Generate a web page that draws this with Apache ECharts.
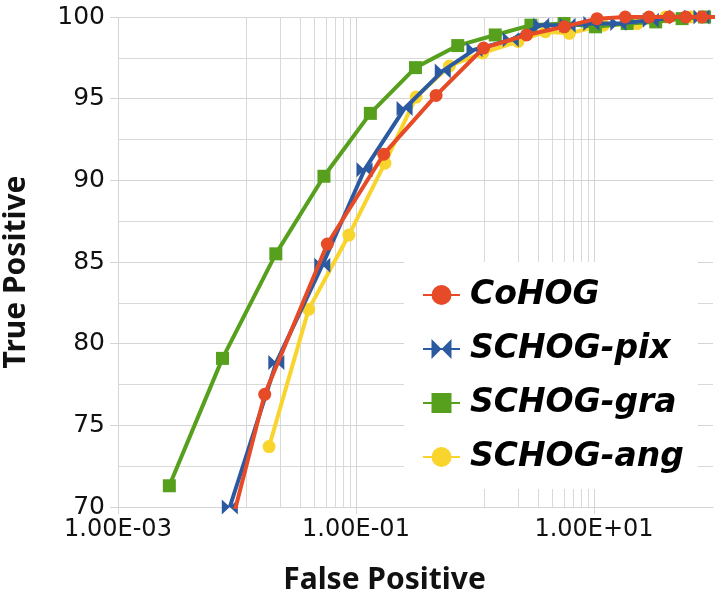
<!DOCTYPE html>
<html><head><meta charset="utf-8">
<script src="https://cdn.jsdelivr.net/npm/echarts@6/dist/echarts.min.js"></script>
<style>html,body{margin:0;padding:0;background:#fff}#c{width:717px;height:600px}</style>
</head><body><div id="c"></div>
<script>
// ---- data ----
const seriesNames = ['CoHOG', 'SCHOG-pix', 'SCHOG-gra', 'SCHOG-ang'];
const cohogFP = [0.0090, 0.0171, 0.0574, 0.171, 0.471, 1.18, 2.71, 5.62, 10.6, 18.3, 29.0, 42.8, 59, 81, 120];
const cohogTP = [69.0, 76.9, 86.1, 91.6, 95.2, 98.1, 98.9, 99.4, 99.9, 100, 100, 100, 100, 100, 100];
const pixFP = [0.0087, 0.0214, 0.0521, 0.118, 0.256, 0.536, 0.99, 2.0, 3.6, 6.0, 9.5, 16, 30, 50, 80, 120];
const pixTP = [70.0, 78.85, 84.8, 90.65, 94.4, 96.7, 98.0, 98.6, 99.5, 99.5, 99.6, 99.6, 99.8, 100, 100, 100];
const graFP = [0.0027, 0.00755, 0.0212, 0.0538, 0.132, 0.316, 0.716, 1.48, 2.95, 5.6, 10.3, 19, 33, 55, 85, 120];
const graTP = [71.3, 79.1, 85.5, 90.25, 94.1, 96.9, 98.25, 98.9, 99.5, 99.6, 99.4, 99.6, 99.7, 99.9, 100, 100];
const angFP = [0.0186, 0.040, 0.0871, 0.175, 0.32, 0.61, 1.16, 2.3, 3.9, 6.2, 12, 23, 40, 65, 120];
const angTP = [73.7, 82.1, 86.65, 91.05, 95.1, 97.0, 97.8, 98.5, 99.1, 99.0, 99.5, 99.6, 100, 100, 100];
const xMajorTicks = [0.001, 0.1, 10];
const yTicks = [70, 75, 80, 85, 90, 95, 100];

// minor gridlines (Excel style: 9 linear steps between major ticks)
const xMinorTicks = [];
for (let i = 0; i < xMajorTicks.length; i++) {
  const a = xMajorTicks[i], b = a * 100;
  for (let k = 1; k <= 8; k++) {
    const v = +(a + k * (b - a) / 9).toPrecision(6);
    if (v < 100) xMinorTicks.push(v);
  }
}

const colors = ['#E64A26', '#2B5AA0', '#56A01E', '#F8D42C'];
const symbols = ['circle', 'path://M0,0 L10,6 L0,12 Z M20,0 L10,6 L20,12 Z', 'rect', 'circle'];
const symbolSizes = [13, [16, 15], 13, 13];
const zs = [5, 4, 3, 2];
const pairs = (xs, ys) => xs.map((x, i) => [x, ys[i]]);
const dataSets = [pairs(cohogFP, cohogTP), pairs(pixFP, pixTP), pairs(graFP, graTP), pairs(angFP, angTP)];

function fmtE(v) {
  const e = Math.round(Math.log10(v));
  const m = v / Math.pow(10, e);
  const s = e < 0 ? '-' : '+';
  const ae = Math.abs(e);
  return m.toFixed(2) + 'E' + s + (ae < 10 ? '0' : '') + ae;
}

const TFONT = 'DejaVu Sans';
const NFONT = 'Noto Sans';
const chart = echarts.init(document.getElementById('c'), null, {renderer: 'canvas'});
chart.setOption({
  animation: false,
  backgroundColor: '#fff',
  grid: {left: 118, right: 4, top: 17, bottom: 93, containLabel: false, outerBoundsMode: 'none'},
  xAxis: [{
    type: 'log', logBase: 10, min: 0.001, max: 100,
    name: 'False Positive', nameLocation: 'middle', nameGap: 58,
    nameTextStyle: {fontFamily: NFONT, fontWeight: 'bold', fontSize: 30, color: '#111', padding: [0, 62, 0, 0]},
    axisLine: {show: true, lineStyle: {color: '#D4D4D4', width: 1}},
    axisTick: {show: true, length: 7, customValues: xMajorTicks, lineStyle: {color: '#D4D4D4'}},
    axisLabel: {customValues: xMajorTicks, formatter: fmtE, fontFamily: TFONT, fontSize: 24, color: '#111', margin: 11},
    splitLine: {show: true, lineStyle: {color: '#D4D4D4', width: 1}}
  }, {
    type: 'log', logBase: 10, min: 0.001, max: 100, position: 'bottom',
    axisLine: {show: false},
    axisTick: {show: false, customValues: xMinorTicks},
    axisLabel: {show: false, customValues: xMinorTicks},
    splitLine: {show: true, lineStyle: {color: '#D9D9D9', width: 1}}
  }],
  yAxis: {
    type: 'value', min: 70, max: 100, interval: 5,
    name: 'True Positive', nameLocation: 'middle', nameGap: 87, nameRotate: 90,
    nameTextStyle: {fontFamily: NFONT, fontWeight: 'bold', fontSize: 30, color: '#111', padding: [0, 20, 0, 0]},
    axisLine: {show: false},
    axisTick: {show: true, length: 8, lineStyle: {color: '#D4D4D4'}},
    axisLabel: {fontFamily: TFONT, fontSize: 25, color: '#111', margin: 13},
    splitLine: {show: true, lineStyle: {color: '#D4D4D4', width: 1}},
    minorTick: {show: false, splitNumber: 2},
    minorSplitLine: {show: true, lineStyle: {color: '#D9D9D9', width: 1}}
  },
  legend: {
    orient: 'vertical', left: 404, top: 262,
    data: seriesNames,
    backgroundColor: '#fff',
    padding: [13, 14, 12, 18],
    itemWidth: 37, itemHeight: 25, itemGap: 14,
    textStyle: {fontFamily: TFONT, fontStyle: 'italic', fontWeight: 'bold', fontSize: 33, color: '#000', lineHeight: 40, padding: [0, 0, 0, 5]}
  },
  series: seriesNames.map((n, i) => ({
    name: n, type: 'line', xAxisIndex: 0, yAxisIndex: 0,
    data: dataSets[i], z: zs[i],
    symbol: symbols[i], symbolSize: symbolSizes[i], showAllSymbol: true,
    clip: true,
    lineStyle: {color: colors[i], width: 4},
    itemStyle: {color: colors[i], borderWidth: 0}
  }))
});
</script></body></html>
